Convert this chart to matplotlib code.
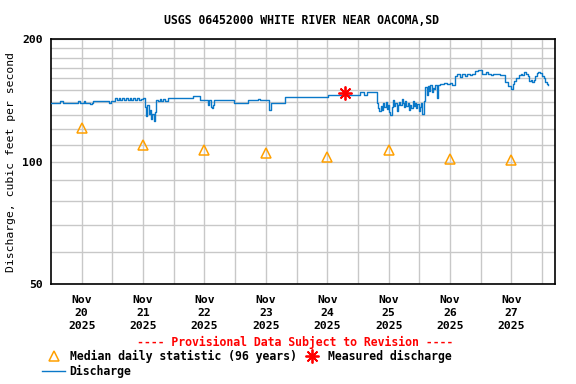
import matplotlib
matplotlib.use("Agg")
import matplotlib.pyplot as plt
from matplotlib.lines import Line2D
from matplotlib.ticker import FixedLocator, NullFormatter

# time in days after Nov 20 2025 00:00, discharge in cubic feet per second
flow_days = [0.00, 0.14, 0.19, 0.44, 0.48, 0.53, 0.56, 0.62, 0.64, 0.66, 0.68,
             0.92, 0.95, 0.97, 1.04, 1.07, 1.10, 1.13, 1.16, 1.19, 1.22, 1.25,
             1.28, 1.31, 1.34, 1.37, 1.40, 1.43, 1.46, 1.50, 1.53, 1.55, 1.57,
             1.59, 1.61, 1.63, 1.65, 1.67, 1.69, 1.71, 1.74, 1.77, 1.80, 1.83,
             1.86, 1.90, 2.31, 2.42, 2.55, 2.57, 2.60, 2.62, 2.64, 2.66, 2.84,
             2.98, 3.21, 3.37, 3.40, 3.53, 3.55, 3.58, 3.81, 4.51, 5.03, 5.10,
             5.14, 5.31, 5.33, 5.35, 5.37, 5.39, 5.41, 5.43, 5.45, 5.47, 5.49,
             5.51, 5.53, 5.55, 5.57, 5.59, 5.61, 5.63, 5.65, 5.67, 5.69, 5.71,
             5.73, 5.75, 5.77, 5.79, 5.81, 5.83, 5.85, 5.87, 5.89, 5.91, 5.93,
             5.95, 5.97, 5.99, 6.01, 6.03, 6.05, 6.07, 6.09, 6.10, 6.12, 6.14,
             6.16, 6.18, 6.20, 6.22, 6.24, 6.26, 6.28, 6.30, 6.33, 6.40, 6.45,
             6.50, 6.53, 6.58, 6.62, 6.66, 6.70, 6.74, 6.78, 6.82, 6.86, 6.91,
             6.96, 7.02, 7.08, 7.12, 7.16, 7.20, 7.25, 7.31, 7.40, 7.45, 7.50,
             7.52, 7.55, 7.58, 7.62, 7.66, 7.68, 7.70, 7.74, 7.77, 7.79, 7.82,
             7.84, 7.87, 7.89, 7.91, 7.94, 7.97, 8.00, 8.03, 8.05, 8.08, 8.10]
flow_cfs = [139.6, 140.8, 139.6, 140.8, 139.6, 140.8, 139.6, 139.5, 138.5, 139.6, 141.0,
            141.0, 139.5, 141.0, 143.0, 141.5, 143.0, 141.8, 143.0, 141.5, 143.0, 142.0,
            143.0, 141.5, 143.0, 141.8, 143.0, 141.5, 142.5, 143.0, 136.0, 129.0, 137.7,
            131.0, 133.5, 127.0, 130.5, 125.8, 132.0, 142.0, 140.8, 142.5, 141.2, 142.8,
            141.0, 143.0, 145.0, 141.6, 137.7, 141.6, 136.0, 135.1, 138.0, 141.6, 141.6,
            139.5, 141.3, 142.5, 141.3, 141.3, 133.8, 139.5, 143.8, 145.7, 148.4, 145.7,
            148.4, 139.5, 135.2, 132.8, 137.0, 133.8, 138.9, 136.0, 140.3, 134.5, 138.0,
            132.5, 130.1, 136.0, 141.6, 137.0, 139.0, 133.0, 137.5, 140.0, 138.0, 142.5,
            139.0, 136.0, 140.5, 137.0, 139.5, 134.0, 138.0, 135.0, 141.0, 137.0, 139.0,
            135.0, 138.5, 133.0, 136.0, 139.0, 131.0, 141.0, 148.0, 152.7, 146.0, 153.0,
            149.0, 154.0, 148.0, 152.0, 150.5, 154.0, 143.2, 154.2, 155.0, 156.2, 155.0,
            156.2, 154.2, 162.0, 164.0, 161.0, 164.1, 162.5, 164.1, 163.0, 164.1, 166.9,
            167.8, 164.1, 165.9, 164.1, 163.0, 164.1, 164.1, 163.1, 157.1, 153.0, 150.5,
            155.0, 158.0, 160.1, 163.0, 164.5, 163.0, 165.9, 164.1, 162.0, 158.0, 159.0,
            157.0, 159.0, 162.0, 165.0, 165.9, 165.0, 162.0, 160.0, 157.0, 155.0, 154.2]

median_days = [0.5, 1.5, 2.5, 3.5, 4.5, 5.5, 6.5, 7.5]
median_cfs = [121, 110, 106.5, 105, 102.6, 107, 101.4, 101]

measured_days = [4.79]
measured_cfs = [147.4]

day_labels = ["Nov\n20\n2025", "Nov\n21\n2025", "Nov\n22\n2025", "Nov\n23\n2025",
              "Nov\n24\n2025", "Nov\n25\n2025", "Nov\n26\n2025", "Nov\n27\n2025"]

blue = "#0a78c8"
orange = "#ffa000"
plt.rcParams["font.family"] = "DejaVu Sans Mono"
plt.rcParams["font.weight"] = "bold"

fig = plt.figure(figsize=(5.76, 3.84), dpi=100)
ax = fig.add_axes([51 / 576, 1 - 284 / 384, 504 / 576, 245 / 384])

ax.plot(flow_days, flow_cfs, color=blue, linewidth=1.0, drawstyle="steps-post", zorder=3)
ax.plot(median_days, median_cfs, linestyle="none", marker="^", markersize=7.5,
        markerfacecolor="none", markeredgecolor=orange, markeredgewidth=1.1, zorder=4)
ax.plot(measured_days, measured_cfs, linestyle="none", marker=(8, 2, 0), markersize=10,
        color="red", markeredgewidth=1.3, zorder=5)

ax.set_yscale("log")
ax.set_ylim(50, 200)
ax.set_xlim(0, 8.21)
ax.yaxis.set_major_locator(FixedLocator([50, 100, 200]))
ax.set_yticklabels(["50", "100", "200"])
ax.yaxis.set_minor_locator(FixedLocator(list(range(60, 200, 10))))
ax.yaxis.set_minor_formatter(NullFormatter())
ax.set_xticks(median_days)
ax.set_xticklabels(day_labels, linespacing=1.35)
ax.xaxis.set_minor_locator(FixedLocator(range(1, 9)))

ax.grid(True, which="both", color="#c8c8c8", linewidth=1.0, zorder=0)
ax.set_axisbelow(True)
ax.tick_params(which="both", length=0)
ax.tick_params(axis="x", pad=8, labelsize=8.2)
ax.tick_params(axis="y", pad=6, labelsize=8.2)
for spine in ax.spines.values():
    spine.set_color("black")
    spine.set_linewidth(1.2)

ax.set_ylabel("Discharge, cubic feet per second", fontsize=8.2, labelpad=4)
fig.text(0.524, 1 - 20 / 384, "USGS 06452000 WHITE RIVER NEAR OACOMA,SD",
         ha="center", va="center", fontsize=8.3, fontweight="bold")
fig.text(295 / 576, 1 - 342 / 384, "---- Provisional Data Subject to Revision ----",
         ha="center", va="center", fontsize=8.3, fontweight="bold", color="red")

handles = [
    Line2D([], [], linestyle="none", marker="^", markersize=7.5, markerfacecolor="none",
           markeredgecolor=orange, markeredgewidth=1.1),
    Line2D([], [], color=blue, linewidth=1.0),
    Line2D([], [], linestyle="none", marker=(8, 2, 0), markersize=10, color="red",
           markeredgewidth=1.3),
]
labels = ["Median daily statistic (96 years)", "Discharge", "Measured discharge"]
fig.legend(handles, labels, loc="upper left", bbox_to_anchor=(42 / 576, 1 - 350 / 384),
           ncol=2, frameon=False, fontsize=8.3, handlelength=2.0, handletextpad=0.4,
           columnspacing=0.3, labelspacing=0.2, borderpad=0, borderaxespad=0)

fig.savefig("out.png", dpi=100)
